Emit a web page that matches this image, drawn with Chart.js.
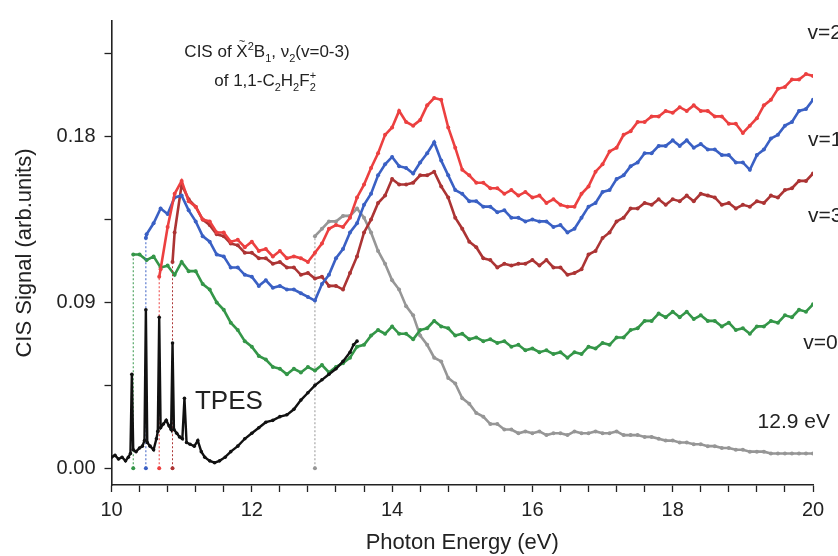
<!DOCTYPE html>
<html>
<head>
<meta charset="utf-8">
<script src="https://cdn.jsdelivr.net/npm/chart.js@4.4.1/dist/chart.umd.min.js"></script>
<style>
  html, body { margin: 0; padding: 0; background: #fff; }
  #wrap { width: 838px; height: 556px; }
</style>
</head>
<body>
<div id="wrap"><canvas id="chart" width="838" height="556"></canvas></div>
<script>
/* --------------------------
   DATA
-------------------------- */
// photon energy grid (eV) shared by the CIS curves
const energy = [
  10.0, 10.1, 10.2, 10.3, 10.4, 10.5, 10.6, 10.7, 10.8, 10.9,
  11.0, 11.1, 11.2, 11.3, 11.4, 11.5, 11.6, 11.7, 11.8, 11.9,
  12.0, 12.1, 12.2, 12.3, 12.4, 12.5, 12.6, 12.7, 12.8, 12.9,
  13.0, 13.1, 13.2, 13.3, 13.4, 13.5, 13.6, 13.7, 13.8, 13.9,
  14.0, 14.1, 14.2, 14.3, 14.4, 14.5, 14.6, 14.7, 14.8, 14.9,
  15.0, 15.1, 15.2, 15.3, 15.4, 15.5, 15.6, 15.7, 15.8, 15.9,
  16.0, 16.1, 16.2, 16.3, 16.4, 16.5, 16.6, 16.7, 16.8, 16.9,
  17.0, 17.1, 17.2, 17.3, 17.4, 17.5, 17.6, 17.7, 17.8, 17.9,
  18.0, 18.1, 18.2, 18.3, 18.4, 18.5, 18.6, 18.7, 18.8, 18.9,
  19.0, 19.1, 19.2, 19.3, 19.4, 19.5, 19.6, 19.7, 19.8, 19.9,
  20.0
];

const cisV0 = [
  null, null, null, null, 0.116, 0.113, 0.115, 0.109, 0.110, 0.105,
  0.112, 0.107, 0.107, 0.100, 0.097, 0.090, 0.086, 0.079, 0.075, 0.069,
  0.066, 0.061, 0.059, 0.055, 0.054, 0.051, 0.054, 0.052, 0.055, 0.053,
  0.056, 0.052, 0.055, 0.057, 0.060, 0.066, 0.067, 0.072, 0.075, 0.073,
  0.077, 0.073, 0.073, 0.070, 0.075, 0.076, 0.080, 0.077, 0.076, 0.072,
  0.073, 0.070, 0.071, 0.069, 0.070, 0.068, 0.069, 0.066, 0.067, 0.064,
  0.065, 0.063, 0.064, 0.062, 0.063, 0.060, 0.063, 0.062, 0.066, 0.065,
  0.068, 0.067, 0.071, 0.071, 0.075, 0.076, 0.080, 0.080, 0.084, 0.082,
  0.085, 0.082, 0.085, 0.081, 0.083, 0.080, 0.080, 0.077, 0.079, 0.075,
  0.076, 0.073, 0.077, 0.077, 0.080, 0.079, 0.083, 0.082, 0.086, 0.085,
  0.089
];

const cisV1 = [
  null, null, null, null, null, 0.127, 0.133, 0.141, 0.138, 0.147,
  0.148, 0.140, 0.134, 0.126, 0.123, 0.116, 0.115, 0.109, 0.109, 0.105,
  0.104, 0.099, 0.102, 0.098, 0.099, 0.097, 0.097, 0.095, 0.093, 0.091,
  0.100, 0.105, 0.114, 0.119, 0.128, 0.133, 0.143, 0.149, 0.159, 0.165,
  0.169, 0.164, 0.163, 0.160, 0.166, 0.171, 0.177, 0.167, 0.159, 0.151,
  0.149, 0.145, 0.145, 0.142, 0.142, 0.139, 0.140, 0.136, 0.136, 0.134,
  0.135, 0.134, 0.134, 0.131, 0.132, 0.128, 0.130, 0.136, 0.142, 0.144,
  0.150, 0.151, 0.157, 0.159, 0.164, 0.166, 0.171, 0.171, 0.175, 0.175,
  0.178, 0.175, 0.178, 0.174, 0.176, 0.173, 0.173, 0.170, 0.170, 0.166,
  0.166, 0.162, 0.170, 0.173, 0.179, 0.181, 0.186, 0.188, 0.194, 0.195,
  0.200
];

const cisV2 = [
  null, null, null, null, null, null, null, 0.108, 0.131, 0.149,
  0.156, 0.145, 0.142, 0.135, 0.134, 0.128, 0.128, 0.123, 0.124, 0.120,
  0.123, 0.118, 0.119, 0.115, 0.118, 0.114, 0.115, 0.114, 0.112, 0.117,
  0.122, 0.130, 0.132, 0.131, 0.136, 0.147, 0.154, 0.163, 0.171, 0.181,
  0.185, 0.194, 0.188, 0.186, 0.189, 0.197, 0.201, 0.200, 0.185, 0.174,
  0.162, 0.159, 0.155, 0.155, 0.152, 0.152, 0.149, 0.151, 0.148, 0.150,
  0.147, 0.148, 0.144, 0.146, 0.143, 0.142, 0.142, 0.149, 0.153, 0.161,
  0.165, 0.172, 0.174, 0.181, 0.183, 0.188, 0.188, 0.191, 0.191, 0.194,
  0.193, 0.196, 0.194, 0.197, 0.194, 0.194, 0.191, 0.191, 0.187, 0.187,
  0.182, 0.186, 0.190, 0.197, 0.200, 0.206, 0.207, 0.211, 0.211, 0.214,
  0.213
];

const cisV3 = [
  null, null, null, null, null, null, null, null, null, 0.128,
  0.154, 0.146, 0.142, 0.135, 0.132, 0.127, 0.126, 0.122, 0.121, 0.117,
  0.117, 0.114, 0.114, 0.111, 0.112, 0.109, 0.109, 0.105, 0.106, 0.103,
  0.104, 0.099, 0.099, 0.097, 0.106, 0.115, 0.128, 0.135, 0.144, 0.148,
  0.157, 0.154, 0.154, 0.155, 0.159, 0.159, 0.161, 0.153, 0.147, 0.136,
  0.130, 0.123, 0.120, 0.114, 0.113, 0.109, 0.111, 0.110, 0.111, 0.111,
  0.113, 0.110, 0.113, 0.109, 0.109, 0.105, 0.106, 0.108, 0.116, 0.118,
  0.125, 0.128, 0.134, 0.136, 0.141, 0.141, 0.144, 0.143, 0.146, 0.143,
  0.146, 0.145, 0.148, 0.145, 0.149, 0.148, 0.147, 0.143, 0.144, 0.141,
  0.143, 0.142, 0.145, 0.144, 0.148, 0.147, 0.151, 0.152, 0.156, 0.156,
  0.160
];

// CIS measured at 12.9 eV
const cis129 = [
  null, null, null, null, null, null, null, null, null, null,
  null, null, null, null, null, null, null, null, null, null,
  null, null, null, null, null, null, null, null, null, null,
  0.130, 0.134, 0.134, 0.137, 0.137, 0.141, 0.136, 0.128, 0.118, 0.111,
  0.102, 0.097, 0.088, 0.083, 0.072, 0.067, 0.060, 0.058, 0.049, 0.046,
  0.038, 0.035, 0.030, 0.028, 0.024, 0.024, 0.021, 0.021, 0.019, 0.020,
  0.019, 0.020, 0.018, 0.019, 0.019, 0.018, 0.020, 0.019, 0.019, 0.020,
  0.019, 0.019, 0.020, 0.018, 0.018, 0.018, 0.017, 0.017, 0.016, 0.015,
  0.015, 0.014, 0.014, 0.013, 0.013, 0.012, 0.012, 0.011, 0.011, 0.010,
  0.010, 0.009, 0.009, 0.009, 0.008, 0.008, 0.008, 0.008, 0.008, 0.008,
  0.008
];

// ionization energies where each CIS curve starts, and the signal it jumps to
const thresholdE   = [10.31, 10.49, 10.68, 10.87, 12.90];
const thresholdTop = [0.116, 0.125, 0.104, 0.112, 0.126];

// threshold photoelectron spectrum
const tpesE = [
  10.00, 10.05, 10.10, 10.15, 10.20, 10.24, 10.27, 10.29, 10.31, 10.35,
  10.40, 10.44, 10.47, 10.49, 10.51, 10.55, 10.60, 10.64, 10.66, 10.68,
  10.70, 10.74, 10.78, 10.82, 10.85, 10.87, 10.89, 10.93, 10.97, 11.01,
  11.04, 11.07, 11.12, 11.18, 11.23, 11.28, 11.33, 11.40, 11.47, 11.54,
  11.62, 11.70, 11.80, 11.90, 12.00, 12.10, 12.20, 12.30, 12.40, 12.50,
  12.60, 12.70, 12.80, 12.90, 13.00, 13.10, 13.20, 13.30, 13.40, 13.45,
  13.50
];
const tpesV = [
  0.006, 0.007, 0.005, 0.006, 0.004, 0.006, 0.008, 0.051, 0.010, 0.009,
  0.011, 0.012, 0.015, 0.086, 0.014, 0.012, 0.010, 0.016, 0.020, 0.082,
  0.022, 0.024, 0.026, 0.023, 0.021, 0.068, 0.021, 0.019, 0.017, 0.016,
  0.038, 0.014, 0.013, 0.012, 0.015, 0.009, 0.006, 0.004, 0.003, 0.004,
  0.006, 0.009, 0.012, 0.016, 0.019, 0.022, 0.025, 0.026, 0.028, 0.029,
  0.032, 0.037, 0.041, 0.045, 0.048, 0.051, 0.054, 0.058, 0.063, 0.067,
  0.069
];

const seriesNames = ["v=2", "v=1", "v=3", "v=0", "12.9 eV"];

/* --------------------------
   STYLE
-------------------------- */
const FONT = "'Liberation Sans', Arial, Helvetica, sans-serif";
const INK = "#222";
const COLORS = {
  v0: "rgb(52,150,72)",
  v1: "rgb(58,96,196)",
  v2: "rgb(236,64,64)",
  v3: "rgb(172,52,52)",
  e129: "rgb(150,150,150)",
  tpes: "#111"
};

function cisPoints(values, thrE, thrTop) {
    const pts = [{ x: thrE, y: 0 }, { x: thrE, y: thrTop }];
    values.forEach((v, i) => {
        if (v !== null) pts.push({ x: energy[i], y: v });
    });
    return pts;
}

function cisDataset(label, values, k, color) {
    return {
        label,
        data: cisPoints(values, thresholdE[k], thresholdTop[k]),
        borderColor: color,
        backgroundColor: color,
        borderWidth: 2.6,
        pointRadius: 2,
        pointBorderWidth: 0,
        tension: 0,
        segment: {
            borderWidth: ctx => ctx.p0DataIndex === 0 ? 1 : undefined,
            borderDash: ctx => ctx.p0DataIndex === 0 ? [2, 2] : undefined
        }
    };
}

const tpesData = tpesE.map((e, i) => ({ x: e, y: tpesV[i] }));

/* --------------------------
   TEXT OVERLAY
-------------------------- */
// draw a run of text parts with sub/superscripts centred on cx
function drawRich(ctx, parts, cx, cy, size) {
    const small = Math.round(size * 0.62);
    let total = 0;
    parts.forEach(p => {
        const s = p.pos ? small : size;
        ctx.font = `${s}px ${FONT}`;
        p.w = ctx.measureText(p.t).width;
        if (!p.stack) total += p.w;
    });
    let x = cx - total / 2;
    let lastX = x;
    ctx.textBaseline = "alphabetic";
    ctx.textAlign = "left";
    const base = cy + size * 0.36;
    parts.forEach(p => {
        const s = p.pos ? small : size;
        ctx.font = `${s}px ${FONT}`;
        let y = base;
        if (p.pos === "sub") y = base + size * 0.28;
        if (p.pos === "sup") y = base - size * 0.42;
        const px = p.stack ? lastX : x;
        ctx.fillText(p.t, px, y);
        if (p.tilde) {
            ctx.font = `${small}px ${FONT}`;
            ctx.textAlign = "center";
            ctx.fillText("~", px + p.w / 2, base - size * 0.72);
            ctx.textAlign = "left";
        }
        if (!p.stack) {
            lastX = x;
            x += p.w;
        }
    });
}

const overlayPlugin = {
    id: "overlay",
    afterDraw(chart) {
        const { ctx, scales: { x, y } } = chart;
        ctx.save();
        ctx.fillStyle = INK;

        drawRich(ctx, [
            { t: "CIS of " },
            { t: "X", tilde: true },
            { t: "2", pos: "sup" },
            { t: "B" },
            { t: "1", pos: "sub" },
            { t: ", \u03BD" },
            { t: "2", pos: "sub" },
            { t: "(v=0-3)" }
        ], 267, 51, 17);

        drawRich(ctx, [
            { t: "of 1,1-C" },
            { t: "2", pos: "sub" },
            { t: "H" },
            { t: "2", pos: "sub" },
            { t: "F" },
            { t: "2", pos: "sub" },
            { t: "+", pos: "sup", stack: true }
        ], 265, 80, 17);

        // curve labels on the right
        const labelE = [19.92, 19.93, 19.93, 19.86, 19.21];
        const labelV = [0.236, 0.178, 0.137, 0.068, 0.025];
        ctx.font = `21px ${FONT}`;
        ctx.textAlign = "left";
        ctx.textBaseline = "middle";
        seriesNames.forEach((name, i) => {
            ctx.fillText(name, x.getPixelForValue(labelE[i]), y.getPixelForValue(labelV[i]));
        });

        ctx.font = `26px ${FONT}`;
        ctx.fillText("TPES", x.getPixelForValue(11.19), y.getPixelForValue(0.036));
        ctx.restore();
    }
};

/* --------------------------
   CHART
-------------------------- */
new Chart(document.getElementById("chart"), {
    type: "line",
    data: {
        datasets: [
            {
                label: "TPES",
                data: tpesData,
                borderColor: COLORS.tpes,
                backgroundColor: COLORS.tpes,
                borderWidth: 2.4,
                pointRadius: 1.8,
                pointBorderWidth: 0,
                tension: 0
            },
            cisDataset("v=2", cisV2, 2, COLORS.v2),
            cisDataset("v=1", cisV1, 1, COLORS.v1),
            cisDataset("v=3", cisV3, 3, COLORS.v3),
            cisDataset("v=0", cisV0, 0, COLORS.v0),
            cisDataset("12.9 eV", cis129, 4, COLORS.e129)
        ]
    },
    options: {
        responsive: false,
        animation: false,
        devicePixelRatio: 1,
        layout: { padding: { top: 11, right: 25, left: 0, bottom: 0 } },
        plugins: {
            legend: { display: false },
            tooltip: { enabled: false }
        },
        scales: {
            x: {
                type: "linear",
                min: 10,
                max: 20,
                border: { display: true, color: INK, width: 1.6 },
                grid: { drawOnChartArea: false, drawTicks: true, tickLength: 7, tickColor: INK, tickWidth: 1.3 },
                ticks: {
                    stepSize: 0.4,
                    autoSkip: false,
                    maxRotation: 0,
                    padding: 6,
                    color: INK,
                    font: { family: FONT, size: 20 },
                    callback: v => {
                        const r = Math.round(v);
                        return (Math.abs(v - r) < 1e-6 && r % 2 === 0) ? String(r) : "";
                    }
                },
                title: {
                    display: true,
                    text: "Photon Energy (eV)",
                    color: INK,
                    font: { family: FONT, size: 22 },
                    padding: { top: 0, bottom: 0 }
                },
                afterFit: s => { s.height = 71; }
            },
            y: {
                type: "linear",
                min: -0.0091,
                max: 0.2428,
                border: { display: true, color: INK, width: 1.6 },
                grid: { drawOnChartArea: false, drawTicks: true, tickLength: 7, tickColor: INK, tickWidth: 1.3 },
                ticks: {
                    stepSize: 0.045,
                    includeBounds: false,
                    padding: 9,
                    color: INK,
                    font: { family: FONT, size: 20 },
                    callback: v => {
                        const q = v / 0.09;
                        return Math.abs(q - Math.round(q)) < 1e-6 ? v.toFixed(2) : "";
                    }
                },
                title: {
                    display: true,
                    text: "CIS Signal (arb.units)",
                    color: INK,
                    font: { family: FONT, size: 22 },
                    padding: { top: 12, bottom: 0 }
                },
                afterFit: s => { s.width = 111.5; }
            }
        }
    },
    plugins: [overlayPlugin]
});
</script>
</body>
</html>
